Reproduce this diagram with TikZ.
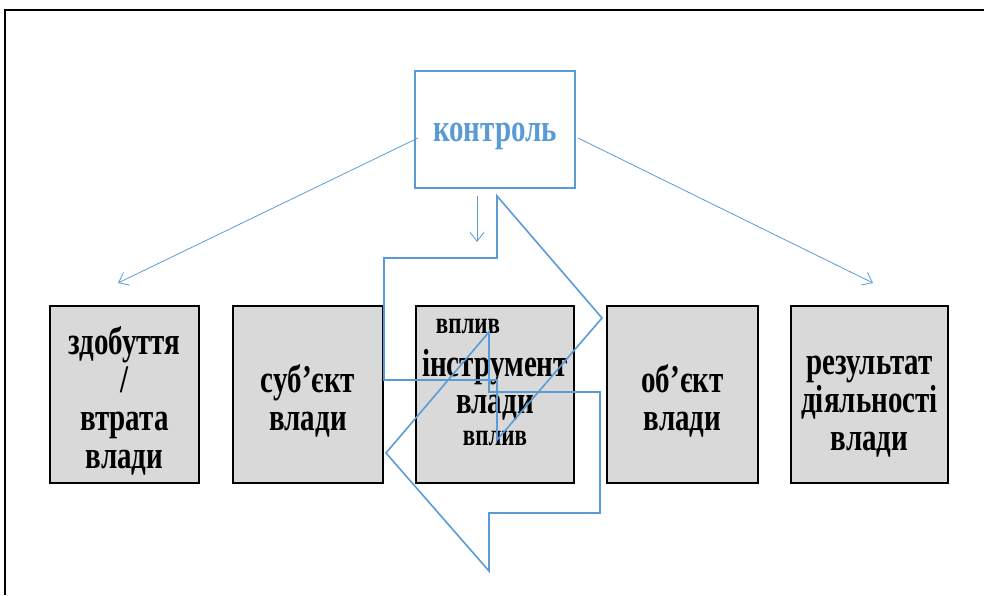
\documentclass[tikz,border=0pt]{standalone}
\usepackage{fontspec}
\setmainfont{Liberation Serif}
\usetikzlibrary{arrows.meta}
\definecolor{bl}{HTML}{5B9BD5}
\definecolor{gr}{HTML}{D9D9D9}
\newcommand{\vs}[1]{\scalebox{1}[1.35]{#1}}
\newcommand{\ml}[1]{\vs{\begin{tabular}{@{}c@{}}#1\end{tabular}}}
\begin{document}
\begin{tikzpicture}[x=1pt,y=-1pt,
  box/.style={draw=black, line width=1.2pt, fill=gr, minimum width=#1, minimum height=177pt, inner sep=0pt},
  small/.style={font=\bfseries\fontsize{23}{22}\selectfont, inner sep=0pt},
  big/.style={font=\bfseries\fontsize{29}{28}\selectfont, inner sep=0pt},
  thinarrow/.style={draw=bl, line width=0.8pt, -{Straight Barb[length=9pt,width=14pt]}},
  bigarrow/.style={draw=bl, line width=1.6pt, line join=miter},
  frame/.style={draw=black, line width=2pt}]
\useasboundingbox (0,0) rectangle (984,595);
\draw[frame] (5,595) -- (5,10) -- (984,10);

% control box
\node[draw=bl, line width=1.3pt, minimum width=160pt, minimum height=117pt, inner sep=0pt] (ctrl) at (495,129.5) {};
\node[big, text=bl] (ctrltxt) at (495,136) {\vs{контроль}};

% gray boxes
\node[box=149pt] (b1) at (124.5,394.5) {};
\node[box=150pt] (b2) at (308,394.5) {};
\node[box=158pt] (b3) at (495,394.5) {};
\node[box=151pt] (b4) at (682.5,394.5) {};
\node[box=157pt] (b5) at (869.5,394.5) {};

\node[big] (t1) at (124.5,403) {\ml{здобуття\\/\\втрата\\влади}};
\node[big] (t2) at (308,403) {\ml{суб’єкт\\влади}};
\node[big] (t4) at (682.5,403) {\ml{об’єкт\\влади}};
\node[big] (t5) at (869.5,405) {\ml{результат\\діяльності\\влади}};

\node[small] (v1) at (468,327) {\vs{вплив}};
\node[big] (instr) at (495,387) {\ml{інструмент\\влади}};
\node[small] (v2) at (495,439) {\vs{вплив}};

% thin arrows from control
\coordinate (lA) at (418,138);
\coordinate (lB) at (118,283);
\coordinate (rA) at (578,138);
\coordinate (rB) at (873,283);
\coordinate (mA) at (477,196);
\coordinate (mB) at (477,242);
\draw[thinarrow] (lA) -- (lB);
\draw[thinarrow] (rA) -- (rB);
\draw[thinarrow] (mA) -- (mB);

% big outline arrows
\draw[bigarrow] (384,258) -- (497,258) -- (497,196) -- (602,318) -- (497,440) -- (497,380) -- (384,380) -- cycle;
\draw[bigarrow] (386,453) -- (489,332) -- (489,392) -- (600,392) -- (600,513) -- (489,513) -- (489,571) -- cycle;
\end{tikzpicture}
\end{document}
